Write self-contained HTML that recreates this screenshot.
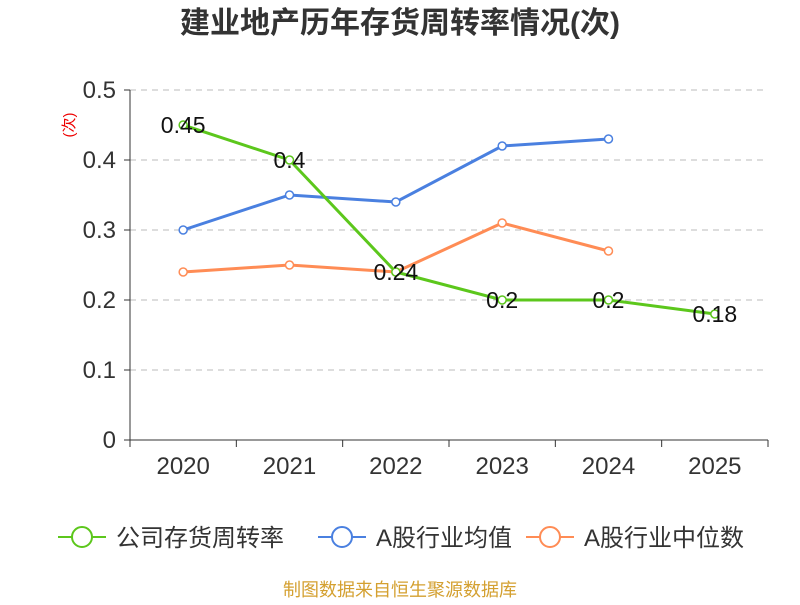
<!DOCTYPE html>
<html><head><meta charset="utf-8">
<style>
body{margin:0;background:#fff;width:800px;height:600px;overflow:hidden;font-family:"Liberation Sans","Noto Sans CJK SC",sans-serif;}
</style></head>
<body>
<svg id="chart" width="800" height="600" xmlns="http://www.w3.org/2000/svg">
<text x="400" y="33" text-anchor="middle" font-size="30" font-weight="bold" fill="#333" font-family="Liberation Sans, Noto Sans CJK SC, sans-serif">建业地产历年存货周转率情况(次)</text>
<text transform="translate(74,125) rotate(-90)" text-anchor="middle" font-size="15" fill="#e00" font-family="Liberation Sans, Noto Sans CJK SC, sans-serif">(次)</text>
<g id="grid"></g><g id="axes"></g><g id="series"></g><g id="labels"></g><g id="legend"></g>
<text x="400" y="596" text-anchor="middle" font-size="18" fill="#d4a030" font-family="Liberation Sans, Noto Sans CJK SC, sans-serif">制图数据来自恒生聚源数据库</text>
</svg>
<script>
const categories=["2020","2021","2022","2023","2024","2025"];
const companyValues=[0.45,0.4,0.24,0.2,0.2,0.18];
const avgValues=[0.30,0.35,0.34,0.42,0.43];
const medianValues=[0.24,0.25,0.24,0.31,0.27];
const yTicks=[0,0.1,0.2,0.3,0.4,0.5];
const yTickLabels=["0","0.1","0.2","0.3","0.4","0.5"];
const seriesNames=["公司存货周转率","A股行业均值","A股行业中位数"];

const NS="http://www.w3.org/2000/svg";
const L=130,R=768,T=90,B=440,maxV=0.5;
const bw=(R-L)/categories.length;
const x=i=>L+bw*(i+0.5);
const y=v=>B-(v/maxV)*(B-T);
function mk(tag,attrs,parent){const e=document.createElementNS(NS,tag);for(const k in attrs)e.setAttribute(k,attrs[k]);parent.appendChild(e);return e;}
const grid=document.getElementById('grid'),axes=document.getElementById('axes'),ser=document.getElementById('series'),lab=document.getElementById('labels'),leg=document.getElementById('legend');
const font="Liberation Sans, Noto Sans CJK SC, sans-serif";
yTicks.forEach((t,i)=>{
 if(t>0){const g=mk('line',{x1:L,x2:R,y1:y(t),y2:y(t),stroke:'#bbb','stroke-dasharray':'6,5'},grid);
 
 }
 const tk=mk('line',{x1:L-6,x2:L,y1:y(t),y2:y(t),stroke:'#333'},axes);
 
 
 const tx=mk('text',{x:L-14,y:y(t)+8,'text-anchor':'end','font-size':24,fill:'#333','font-family':font},axes);
 tx.textContent=yTickLabels[i];
 
 
});
const ya=mk('line',{x1:L,x2:L,y1:T,y2:B,stroke:'#333'},axes);


const xa=mk('line',{x1:L,x2:R,y1:B,y2:B,stroke:'#333'},axes);


for(let i=0;i<=categories.length;i++){
 const tk=mk('line',{x1:L+bw*i,x2:L+bw*i,y1:B,y2:B+7,stroke:'#333'},axes);
 
 
}
categories.forEach((c,i)=>{
 const tx=mk('text',{x:x(i),y:B+34,'text-anchor':'middle','font-size':24,fill:'#333','font-family':font},axes);
 tx.textContent=c;
 
 
});
function drawSeries(vals,color,name){
 const pts=vals.map((v,i)=>x(i)+','+y(v)).join(' ');
 const pl=mk('polyline',{points:pts,fill:'none',stroke:color,'stroke-width':3},ser);
 
 
 vals.forEach((v,i)=>{
  const c=mk('circle',{cx:x(i),cy:y(v),r:4,fill:'#fff',stroke:color,'stroke-width':1.5},ser);
  
  
 });
}
drawSeries(avgValues,'#4a80e0','industry-average');
drawSeries(medianValues,'#ff8c55','industry-median');
drawSeries(companyValues,'#5cc71c','company-turnover');
companyValues.forEach((v,i)=>{
 const tx=mk('text',{x:x(i),y:y(v)+8,'text-anchor':'middle','font-size':23,fill:'#111','font-family':font},lab);
 tx.textContent=String(v);
 
 
});
const legColors=['#5cc71c','#4a80e0','#ff8c55'];
const legX=[58,318,526];
seriesNames.forEach((n,i)=>{
 const g=mk('g',{},leg);
 
 
 mk('line',{x1:legX[i],x2:legX[i]+48,y1:537,y2:537,stroke:legColors[i],'stroke-width':2},g);
 mk('circle',{cx:legX[i]+24,cy:537,r:10,fill:'#fff',stroke:legColors[i],'stroke-width':2},g);
 const tx=mk('text',{x:legX[i]+58,y:546,'font-size':24,fill:'#333','font-family':font},g);
 tx.textContent=n;
});
</script>
</body></html>
